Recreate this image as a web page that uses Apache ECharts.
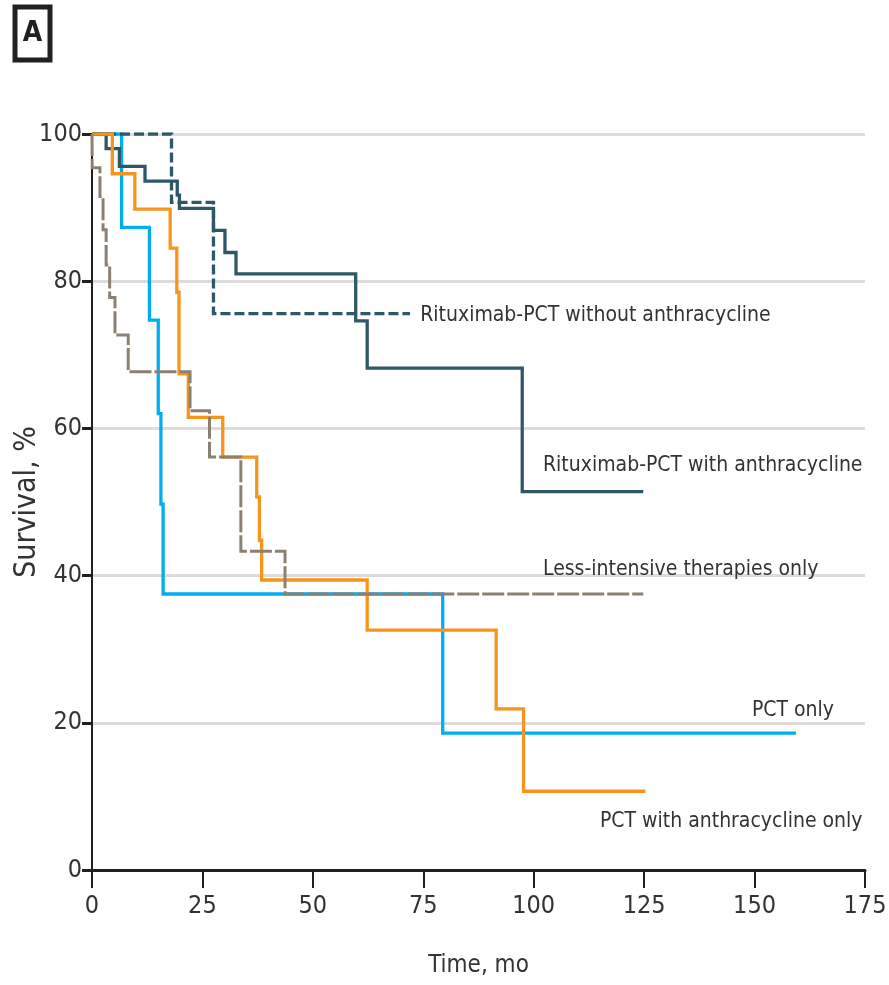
<!DOCTYPE html>
<html>
<head>
<meta charset="utf-8">
<script src="https://cdn.jsdelivr.net/npm/echarts@6/dist/echarts.min.js"></script>
<style>html,body{margin:0;padding:0;background:#fff}#c{width:889px;height:985px}</style>
</head>
<body>
<div id="c"></div>
<script>
// Kaplan-Meier step points [time (months), survival %]
var rituxNoAnthra = [[0,100],[18.0,90.7],[27.5,75.6],[72.0,75.6]];
var rituxAnthra = [[0,100],[3.2,98.0],[6.2,95.6],[12.0,93.6],[19.3,91.7],[19.8,89.9],[27.5,86.9],[30.1,83.9],[32.6,81.0],[59.7,74.6],[62.3,68.2],[97.4,51.4],[124.8,51.4]];
var lessIntensive = [[0,100],[0.05,95.4],[1.8,91.5],[2.5,87.0],[3.2,82.2],[4.0,77.8],[5.2,72.7],[8.2,67.7],[22.2,62.4],[26.6,56.1],[33.7,43.3],[43.7,37.5],[124.8,37.5]];
var pctOnly = [[0,100],[6.7,87.3],[13.0,74.7],[15.0,62.0],[15.6,49.7],[16.1,37.5],[79.4,18.6],[159.4,18.6]];
var pctAnthra = [[0,100],[4.6,94.6],[9.7,89.8],[17.7,84.5],[19.2,78.5],[19.7,67.4],[21.8,61.5],[29.6,56.1],[37.3,50.7],[37.9,44.8],[38.4,39.4],[62.3,32.6],[91.5,21.9],[97.7,10.7],[125.3,10.7]];

var labelTexts = ['Rituximab-PCT without anthracycline','Rituximab-PCT with anthracycline','Less-intensive therapies only','PCT only','PCT with anthracycline only'];
var labelAnchors = [[74.3,75.3],[102.1,54.9],[102.1,40.8],[149.4,21.7],[115.0,6.6]];

var xTicks = [0,25,50,75,100,125,150,175];
var yTicks = [0,20,40,60,80,100];

var FONT = "'Liberation Sans Narrow','DejaVu Sans Condensed','Liberation Sans',sans-serif";
var DARK = '#2f5866', ORANGE = '#f7941d', BLUE = '#00aeef', GRAY = '#8b8173';

var chart = echarts.init(document.getElementById('c'));
function mk(name, data, color, width, type, z){
  return {name:name, type:'line', step:'end', data:data, symbol:'none', z:z,
    lineStyle:{color:color, width:width, type:type, cap:'butt', join:'miter'}, animation:false};
}
var option = {
  animation:false,
  grid:{left:92, right:24, top:134, bottom:115, containLabel:false, outerBoundsMode:'none'},
  xAxis:{type:'value', min:xTicks[0], max:xTicks[xTicks.length-1], interval:25,
    name:'Time, mo', nameLocation:'middle', nameGap:84, nameMoveOverlap:false,
    nameTextStyle:{fontFamily:FONT, fontSize:24, color:'#333'},
    axisLine:{show:true, lineStyle:{color:'#231f20', width:3}},
    axisTick:{show:true, length:18, lineStyle:{color:'#231f20', width:2}},
    axisLabel:{margin:24, fontFamily:FONT, fontSize:25, color:'#333'},
    splitLine:{show:false}},
  yAxis:{type:'value', min:yTicks[0], max:yTicks[yTicks.length-1], interval:20,
    name:'Survival, %', nameLocation:'middle', nameGap:50, nameMoveOverlap:false,
    nameTextStyle:{fontFamily:FONT, fontSize:30, color:'#333'},
    axisLine:{show:true, lineStyle:{color:'#231f20', width:2}},
    axisTick:{show:true, length:10, lineStyle:{color:'#231f20', width:3}},
    axisLabel:{margin:10, fontFamily:FONT, fontSize:25, color:'#333'},
    splitLine:{show:true, lineStyle:{color:'#dcdcdc', width:3}}},
  series:[
    mk('PCT only', pctOnly, BLUE, 3.3, 'solid', 2),
    mk('Rituximab-PCT with anthracycline', rituxAnthra, DARK, 3.3, 'solid', 3),
    mk('Rituximab-PCT without anthracycline', rituxNoAnthra, DARK, 3.3, [10,4], 4),
    mk('PCT with anthracycline only', pctAnthra, ORANGE, 3.3, 'solid', 5),
    mk('Less-intensive therapies only', lessIntensive, GRAY, 3, [22,3], 6)
  ]
};
chart.setOption(option);

var g = [
  {type:'rect', shape:{x:15, y:7, width:35, height:53}, style:{fill:'#fff', stroke:'#231f20', lineWidth:5}, z:10},
  {type:'text', x:32.5, y:34, style:{text:'A', fontFamily:FONT, fontSize:28, fontWeight:'bold', fill:'#231f20', align:'center', verticalAlign:'middle'}, z:11}
];
labelTexts.forEach(function(t,i){
  var p = chart.convertToPixel({gridIndex:0}, labelAnchors[i]);
  g.push({type:'text', x:p[0], y:p[1], style:{text:t, fontFamily:FONT, fontSize:21, fill:'#333', align:'left', verticalAlign:'middle'}, z:10});
});
chart.setOption({graphic:g});
</script>
</body>
</html>
